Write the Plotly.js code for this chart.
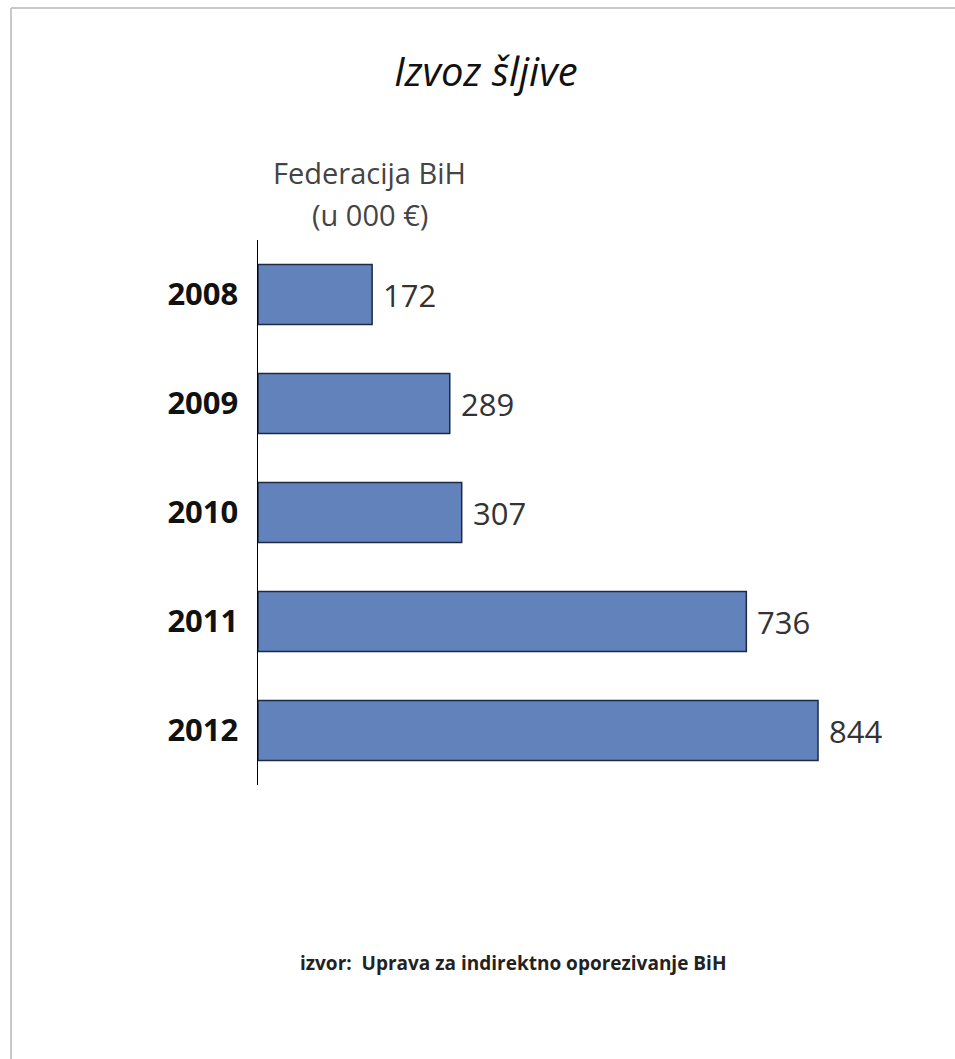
<!DOCTYPE html>
<html>
<head>
<meta charset="utf-8">
<script src="https://cdn.plot.ly/plotly-3.0.1.min.js"></script>
<style>
html,body{margin:0;padding:0;background:#fff;}
#chart{width:955px;height:1059px;}
</style>
</head>
<body>
<div id="chart"></div>
<script>
const years = ['2008', '2009', '2010', '2011', '2012'];
const values = [172, 289, 307, 736, 844];
const valueLabels = ['172', '289', '307', '736', '844'];
const titleText = 'Izvoz šljive';
const axisLabelLines = ['Federacija BiH', '(u 000 €)'];
const sourceText = 'izvor:  Uprava za indirektno oporezivanje BiH';

const W = 955, H = 1059;
const L = 258, R = 900, T = 240, B = 785;
const pw = R - L, ph = B - T;
const px = x => (x - L) / pw;
const py = y => (B - y) / ph;

const trace = {
  type: 'bar',
  orientation: 'h',
  y: years,
  x: values,
  marker: {color: '#6282bc', line: {color: '#1c2a44', width: 1.5}},
  width: 0.55,
  hoverinfo: 'none'
};

const valueAnnotations = years.map((yr, i) => ({
  text: valueLabels[i], x: values[i], y: i, xref: 'x', yref: 'y',
  xanchor: 'left', yanchor: 'middle', xshift: 9, showarrow: false,
  font: {family: 'Open Sans, sans-serif', size: 31, color: '#333333'}
}));

const layout = {
  width: W, height: H,
  margin: {l: L, r: W - R, t: T, b: H - B, pad: 0},
  paper_bgcolor: '#ffffff',
  plot_bgcolor: '#ffffff',
  showlegend: false,
  font: {family: 'Open Sans, sans-serif'},
  xaxis: {
    range: [0, pw / ((818 - 258) / 844)],
    autorange: false,
    visible: false,
    fixedrange: true
  },
  yaxis: {
    type: 'category',
    categoryorder: 'array',
    categoryarray: years,
    autorange: false,
    range: [years.length - 0.5, -0.5],
    showline: true, linecolor: '#000000', linewidth: 1.5,
    showgrid: false, zeroline: false,
    ticks: '',
    ticklabelstandoff: 12,
    tickfont: {family: 'Open Sans, sans-serif', size: 31, color: '#111111', weight: 'bold'},
    fixedrange: true
  },
  annotations: valueAnnotations.concat([
    {text: '<i>' + titleText + '</i>', xref: 'paper', yref: 'paper', x: px(486), y: py(70),
     xanchor: 'center', yanchor: 'middle', showarrow: false,
     font: {family: 'Open Sans, sans-serif', size: 40, color: '#111111'}},
    {text: axisLabelLines[0], xref: 'paper', yref: 'paper', x: px(369), y: py(172),
     xanchor: 'center', yanchor: 'middle', showarrow: false,
     font: {family: 'Open Sans, sans-serif', size: 29, color: '#444444'}},
    {text: axisLabelLines[1], xref: 'paper', yref: 'paper', x: px(370), y: py(214),
     xanchor: 'center', yanchor: 'middle', showarrow: false,
     font: {family: 'Open Sans, sans-serif', size: 29, color: '#444444'}},
    {text: '<b>' + sourceText + '</b>', xref: 'paper', yref: 'paper', x: px(513), y: py(963),
     xanchor: 'center', yanchor: 'middle', showarrow: false,
     font: {family: 'Open Sans, sans-serif', size: 19, color: '#222222'}}
  ]),
  shapes: [
    {type: 'line', xref: 'paper', yref: 'paper', x0: px(11), x1: px(11), y0: py(8), y1: py(H), line: {color: '#c8c8c8', width: 2}},
    {type: 'line', xref: 'paper', yref: 'paper', x0: px(11), x1: px(W), y0: py(8), y1: py(8), line: {color: '#c8c8c8', width: 2}}
  ]
};

Plotly.newPlot('chart', [trace], layout, {displayModeBar: false, staticPlot: true});
</script>
</body>
</html>
